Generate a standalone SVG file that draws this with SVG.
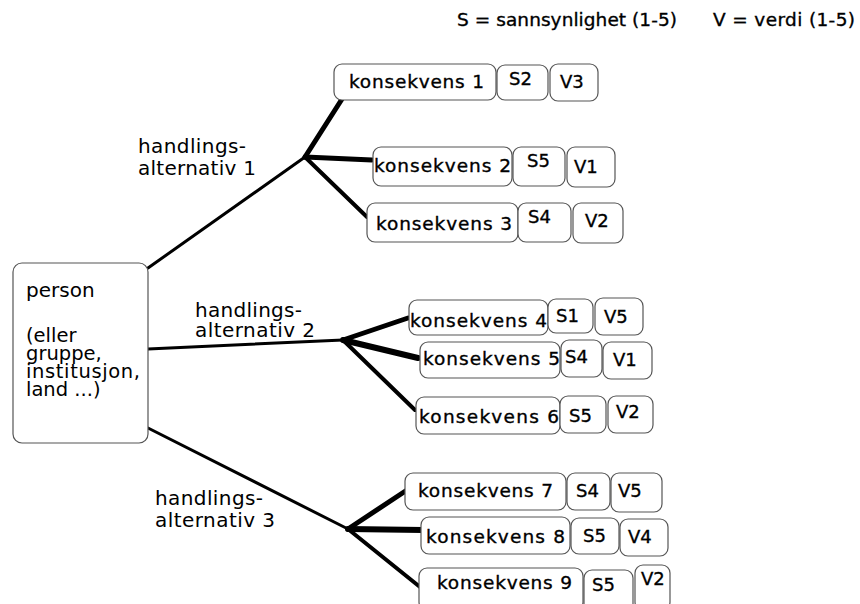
<svg xmlns="http://www.w3.org/2000/svg" width="860" height="604" viewBox="0 0 860 604">
<style>
text{font-family:"DejaVu Sans",Verdana,sans-serif;fill:#000}
.t{font-size:18.5px;stroke:#000;stroke-width:0.35}
.s{font-size:18px;stroke:#000;stroke-width:0.35}
.l{font-size:20px}
.p{font-size:19.5px}
.b{fill:#fff;stroke:#555;stroke-width:1.2}
.m{stroke:#000;stroke-width:3;stroke-linecap:round;fill:none}
.w5{stroke:#000;stroke-width:5;stroke-linecap:round}
.w6{stroke:#000;stroke-width:6;stroke-linecap:round}
.w4{stroke:#000;stroke-width:4;stroke-linecap:round}
</style>
<rect width="860" height="604" fill="#fff"/>
<g id="legend">
<text class="t" x="457" y="26" textLength="220">S = sannsynlighet (1-5)</text>
<text class="t" x="713" y="26" textLength="142">V = verdi (1-5)</text>
</g>
<g id="connectors">
<line class="m" x1="148" y1="268" x2="305" y2="157"/>
<line class="m" x1="148" y1="349" x2="343" y2="340"/>
<line class="m" x1="148" y1="428" x2="348" y2="529"/>
<line class="w5" x1="305" y1="157" x2="342" y2="99"/>
<line class="w5" x1="305" y1="157" x2="372" y2="160"/>
<line class="w4" x1="305" y1="157" x2="367" y2="217"/>
<line class="w5" x1="343" y1="340" x2="408" y2="318"/>
<line class="w6" x1="343" y1="340" x2="418" y2="358"/>
<line class="w4" x1="343" y1="340" x2="415" y2="410"/>
<line class="w5" x1="348" y1="529" x2="407" y2="490"/>
<line class="w6" x1="348" y1="529" x2="423" y2="530"/>
<line class="w4" x1="348" y1="529" x2="420" y2="587"/>
</g>
<g id="labels">
<text class="l" x="138" y="153" textLength="108">handlings-</text>
<text class="l" x="138" y="175" textLength="118">alternativ 1</text>
<text class="l" x="195" y="317" textLength="107">handlings-</text>
<text class="l" x="195" y="337" textLength="120">alternativ 2</text>
<text class="l" x="155" y="505" textLength="108">handlings-</text>
<text class="l" x="155" y="527" textLength="120">alternativ 3</text>
</g>
<g id="person">
<rect class="b" x="13" y="263" width="135" height="180" rx="9"/>
<text class="l" x="26" y="297">person</text>
<text class="p" x="26" y="342">(eller</text>
<text class="p" x="26" y="360">gruppe,</text>
<text class="p" x="26" y="378" textLength="114">institusjon,</text>
<text class="p" x="26" y="396">land ...)</text>
</g>
<g id="k1">
<rect class="b" x="334" y="64" width="162" height="36" rx="8"/>
<rect class="b" x="497" y="65" width="51" height="35" rx="8"/>
<rect class="b" x="550" y="64" width="48" height="37" rx="8"/>
<text class="t" x="349" y="88" textLength="135">konsekvens 1</text>
<text class="s" x="509" y="85">S2</text>
<text class="s" x="560" y="88">V3</text>
</g>
<g id="k2">
<rect class="b" x="373" y="147" width="139" height="39" rx="8"/>
<rect class="b" x="513" y="147" width="52" height="39" rx="8"/>
<rect class="b" x="567" y="147" width="48" height="40" rx="8"/>
<text class="t" x="374" y="172" textLength="137">konsekvens 2</text>
<text class="s" x="527" y="167">S5</text>
<text class="s" x="574" y="173">V1</text>
</g>
<g id="k3">
<rect class="b" x="367" y="203" width="151" height="39" rx="8"/>
<rect class="b" x="518" y="203" width="53" height="39" rx="8"/>
<rect class="b" x="573" y="203" width="50" height="40" rx="8"/>
<text class="t" x="376" y="230" textLength="136">konsekvens 3</text>
<text class="s" x="528" y="223">S4</text>
<text class="s" x="585" y="227">V2</text>
</g>
<g id="k4">
<rect class="b" x="409" y="300" width="139" height="35" rx="8"/>
<rect class="b" x="548" y="299" width="45" height="34" rx="8"/>
<rect class="b" x="595" y="298" width="48" height="37" rx="8"/>
<text class="t" x="410" y="327" textLength="137">konsekvens 4</text>
<text class="s" x="556" y="322">S1</text>
<text class="s" x="604" y="323">V5</text>
</g>
<g id="k5">
<rect class="b" x="420" y="342" width="140" height="36" rx="8"/>
<rect class="b" x="561" y="340" width="41" height="37" rx="8"/>
<rect class="b" x="603" y="342" width="49" height="37" rx="8"/>
<text class="t" x="423" y="365" textLength="137">konsekvens 5</text>
<text class="s" x="565" y="363">S4</text>
<text class="s" x="613" y="366">V1</text>
</g>
<g id="k6">
<rect class="b" x="416" y="397" width="144" height="37" rx="8"/>
<rect class="b" x="560" y="396" width="46" height="37" rx="8"/>
<rect class="b" x="608" y="396" width="45" height="37" rx="8"/>
<text class="t" x="419" y="423" textLength="140">konsekvens 6</text>
<text class="s" x="569" y="422">S5</text>
<text class="s" x="616" y="418">V2</text>
</g>
<g id="k7">
<rect class="b" x="405" y="473" width="161" height="37" rx="8"/>
<rect class="b" x="567" y="473" width="43" height="37" rx="8"/>
<rect class="b" x="611" y="473" width="51" height="39" rx="8"/>
<text class="t" x="418" y="497" textLength="135">konsekvens 7</text>
<text class="s" x="576" y="497">S4</text>
<text class="s" x="618" y="497">V5</text>
</g>
<g id="k8">
<rect class="b" x="421" y="517" width="149" height="37" rx="8"/>
<rect class="b" x="571" y="518" width="48" height="36" rx="8"/>
<rect class="b" x="620" y="519" width="48" height="37" rx="8"/>
<text class="t" x="426" y="543" textLength="139">konsekvens 8</text>
<text class="s" x="583" y="542">S5</text>
<text class="s" x="628" y="543">V4</text>
</g>
<g id="k9">
<rect class="b" x="419" y="568" width="164" height="42" rx="8"/>
<rect class="b" x="584" y="570" width="49" height="42" rx="8"/>
<rect class="b" x="635" y="565" width="35" height="45" rx="8"/>
<text class="t" x="437" y="589" textLength="135">konsekvens 9</text>
<text class="s" x="592" y="591">S5</text>
<text class="s" x="641" y="585">V2</text>
</g>
</svg>
